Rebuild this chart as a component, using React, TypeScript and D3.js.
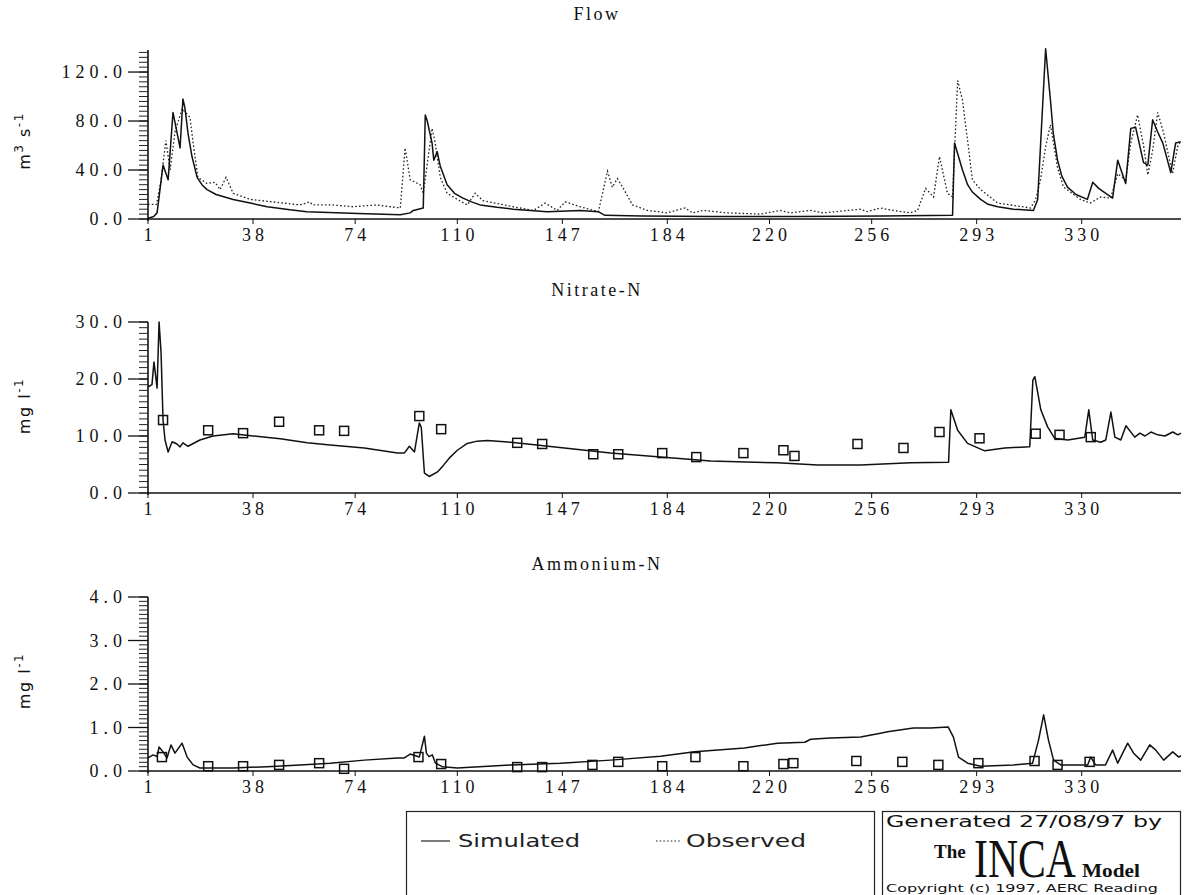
import React from "react";
import * as d3 from "d3";

// ---------- DATA ----------
const xTickDays = [1, 38, 74, 110, 147, 184, 220, 256, 293, 330];

// Flow (m3 s-1)
const flowSimulated: [number, number][] = [
  [1, 0.5], [3, 2], [4.2, 5], [6.3, 44], [8.1, 32], [9.8, 87], [12.3, 58], [13.3, 98], [14, 91],
  [15.1, 70], [16.5, 51], [18.3, 34], [20, 28], [21.8, 24], [25, 20], [31, 16], [37, 13], [43, 10],
  [51, 7.5], [57, 6], [75, 4.5], [89.9, 3.5], [93.4, 5], [94.5, 7], [98, 9], [98.7, 85], [99.4, 80],
  [101.1, 62], [101.7, 48], [102.9, 55], [104, 43], [106.4, 28], [109, 21], [112, 17], [115, 14],
  [118, 11.5], [124, 9.5], [129.7, 8], [141.7, 6], [153.3, 7], [159.7, 6], [162, 3], [175, 2.5],
  [200, 2], [230, 2], [260, 2.5], [284.5, 3], [285.2, 62], [286.6, 51], [288, 40], [289.8, 28],
  [291.5, 22], [294.4, 16], [297, 12], [300.4, 10], [306, 8], [313, 7], [314.5, 16], [317.3, 139],
  [319, 97], [320, 70], [321.5, 48], [323, 35], [325, 26], [328, 20], [332, 16], [333.9, 30],
  [336, 25], [340.9, 17], [342.7, 48], [345.5, 29], [347.3, 74], [349, 75], [351.8, 46],
  [353.3, 44], [355, 81], [356.8, 71], [358.6, 62], [361.4, 38], [363.1, 62], [364.9, 63],
];
const flowObserved: [number, number][] = [
  [1, 12], [4, 12], [5.5, 30], [7.3, 64], [8.8, 40], [10.5, 71], [13, 90], [15.8, 83], [16.9, 62],
  [18.6, 34], [21.8, 29], [24.6, 30], [26.4, 24], [28.5, 34], [31, 21], [37, 16], [54.6, 11.5],
  [58, 14], [59, 11.5], [66, 11.5], [73, 10], [81.7, 11.5], [89.9, 9], [91.6, 58], [93.4, 32],
  [96.9, 28], [98, 21], [101.1, 74], [102.2, 62], [104, 34], [106.4, 21], [110, 16], [113.5, 11.5],
  [116.3, 21], [119, 15], [129.7, 10], [136.8, 7], [141, 13], [145.2, 7], [148, 14], [153.3, 10],
  [159.7, 6], [162.9, 39], [164.6, 26], [166.4, 33], [168.5, 25], [171.7, 11.5], [177, 7],
  [184, 5], [190.3, 9], [192.8, 5], [196.7, 7], [205, 5], [216.8, 4], [223.8, 7], [227.4, 5],
  [234.4, 7], [239, 5], [252, 8], [254.5, 6], [259, 9], [263.7, 7], [269.7, 5], [272.2, 7],
  [275, 25], [277.8, 18], [279.9, 51], [282.7, 21], [284.5, 18], [286.3, 113], [288, 97],
  [289.8, 64], [291.5, 32], [294.4, 24], [300.4, 13], [312, 9], [313.8, 16], [315.5, 32],
  [317.3, 59], [319, 77], [321.5, 42], [323.6, 26], [329.6, 16], [333, 13], [336.7, 18],
  [340.2, 17], [342.7, 37], [345.5, 32], [347.3, 62], [349.7, 85], [351.8, 60], [353.3, 36],
  [355, 56], [356.8, 87], [358.9, 70], [362, 37], [363.8, 59], [365, 64],
];

// Nitrate-N (mg l-1)
const nitrateSimulated: [number, number][] = [
  [1, 18.6], [2.4, 19], [3.1, 23], [4.2, 18.4], [4.9, 30], [5.6, 24.6], [6.3, 12.8], [7, 9.3],
  [8.1, 7.2], [9.5, 9], [11.2, 8.6], [12.3, 8.1], [13.3, 8.8], [15.1, 8.2], [19.3, 9.3],
  [23.9, 10], [31, 10.4], [38, 10], [47.6, 9.5], [57.1, 8.8], [65.2, 8.4], [77.2, 7.9], [88.9, 7],
  [91.3, 7], [93.1, 8.2], [94.9, 7.2], [96.6, 12.3], [97.3, 11.5], [98.4, 3.5], [100.1, 2.9],
  [103, 3.7], [105, 4.8], [107.5, 6.3], [110, 7.5], [113.5, 8.7], [117, 9.1], [120.6, 9.2],
  [126.6, 9], [134.7, 8.6], [147.7, 7.9], [164, 7], [181.6, 6.3], [199.2, 5.6], [222.8, 5.3],
  [237, 4.9], [252.1, 4.9], [269.7, 5.3], [283.1, 5.4], [283.9, 14.6], [286.3, 11], [289.8, 8.7],
  [295.8, 7.4], [302.9, 7.9], [311.7, 8.1], [312.8, 19.8], [313.5, 20.4], [315.6, 14.6],
  [318, 11.6], [320.5, 9.6], [325.1, 9.3], [331.1, 9.8], [332.5, 14.6], [333.9, 9.3],
  [336.7, 8.9], [338.5, 9.3], [340.3, 14.2], [341.7, 9.8], [343.8, 9.3], [345.6, 11.8],
  [348.7, 9.8], [350.5, 10.5], [352.3, 10], [354.4, 10.7], [356.8, 10.2], [359.3, 10],
  [362.1, 10.7], [363.9, 10.2], [365, 10.5],
];
const nitrateObserved: [number, number][] = [
  [6.3, 12.8], [22.2, 11], [34.5, 10.5], [47.2, 12.5], [61.3, 11], [70.1, 10.9], [96.6, 13.5],
  [104.3, 11.2], [131.1, 8.8], [139.9, 8.6], [157.9, 6.8], [166.7, 6.8], [182.2, 7], [194.2, 6.3],
  [210.8, 7], [224.9, 7.5], [228.8, 6.5], [251, 8.6], [267.2, 7.9], [279.9, 10.7], [294, 9.6],
  [313.8, 10.4], [322.2, 10.2], [333.2, 9.8],
];

// Ammonium-N (mg l-1)
const ammoniumSimulated: [number, number][] = [
  [1, 0.3], [2.8, 0.37], [4.2, 0.33], [4.9, 0.55], [6.3, 0.44], [7.7, 0.3], [9.1, 0.6],
  [10.5, 0.41], [13, 0.64], [14.8, 0.32], [16.9, 0.14], [19.3, 0.07], [31, 0.07], [43, 0.1],
  [54.6, 0.14], [65.2, 0.18], [77.2, 0.25], [88.9, 0.3], [91.3, 0.3], [93.4, 0.39], [96.6, 0.32],
  [98.4, 0.8], [99.1, 0.41], [100, 0.33], [101.2, 0.37], [102.3, 0.18], [104.7, 0.1], [110, 0.07],
  [128.7, 0.14], [146.3, 0.18], [164, 0.25], [181.6, 0.34], [187.6, 0.39], [193.6, 0.44],
  [211.2, 0.53], [222.8, 0.64], [232.4, 0.66], [234.5, 0.73], [241.5, 0.76], [252.1, 0.78],
  [259.1, 0.87], [261.6, 0.9], [270.7, 0.99], [276.7, 0.99], [283, 1.01], [284.8, 0.78],
  [286.6, 0.32], [289.8, 0.18], [294.4, 0.11], [306, 0.14], [312.7, 0.18], [314.8, 0.71],
  [316.6, 1.29], [318.3, 0.71], [320.1, 0.25], [322.6, 0.14], [332.1, 0.14], [333.2, 0.32],
  [334.9, 0.14], [338.4, 0.14], [340.9, 0.48], [342.7, 0.18], [346.2, 0.64], [348.3, 0.41],
  [350.8, 0.25], [354, 0.6], [356.1, 0.48], [358.9, 0.25], [362.1, 0.44], [364.2, 0.32], [365, 0.35],
];
const ammoniumObserved: [number, number][] = [
  [5.9, 0.32], [22.2, 0.11], [34.5, 0.11], [47.2, 0.14], [61.3, 0.18], [70.1, 0.05], [96.3, 0.32],
  [104.3, 0.16], [131.1, 0.09], [139.9, 0.09], [157.6, 0.14], [166.7, 0.21], [182.2, 0.11],
  [193.9, 0.32], [210.8, 0.11], [224.9, 0.16], [228.4, 0.18], [250.6, 0.23], [266.8, 0.21],
  [279.5, 0.14], [293.6, 0.18], [313.4, 0.23], [321.5, 0.14], [332.8, 0.21],
];

const flowTicks = [0, 40, 80, 120];
const nitrateTicks = [0, 10, 20, 30];
const ammoniumTicks = [0, 1, 2, 3, 4];

// ---------- LAYOUT ----------
const X0 = 148;
const X1 = 1181;
const xScale = d3.scaleLinear().domain([1, 365]).range([X0, X1]);

const serif = "'Liberation Serif', 'DejaVu Serif', serif";
const sans = "'DejaVu Sans', 'Liberation Sans', sans-serif";

type Panel = {
  title: string;
  titleY: number;
  yLabel: "flow" | "mg";
  yLabelY: number;
  domain: [number, number];
  range: [number, number];
  ticks: number[];
  minorStep: number;
  minorMax: number;
  sim: [number, number][];
  obs: [number, number][];
  obsAsLine: boolean;
};

const panels: Panel[] = [
  {
    title: "Flow", titleY: 20, yLabel: "flow", yLabelY: 141,
    domain: [0, 138], range: [219, 50], ticks: flowTicks, minorStep: 4, minorMax: 136,
    sim: flowSimulated, obs: flowObserved, obsAsLine: true,
  },
  {
    title: "Nitrate-N", titleY: 296, yLabel: "mg", yLabelY: 406,
    domain: [0, 30], range: [493, 322], ticks: nitrateTicks, minorStep: 1, minorMax: 30,
    sim: nitrateSimulated, obs: nitrateObserved, obsAsLine: false,
  },
  {
    title: "Ammonium-N", titleY: 570, yLabel: "mg", yLabelY: 681,
    domain: [0, 4], range: [771, 597], ticks: ammoniumTicks, minorStep: 0.1, minorMax: 4,
    sim: ammoniumSimulated, obs: ammoniumObserved, obsAsLine: false,
  },
];

function PanelView({ p }: { p: Panel }) {
  const y = d3.scaleLinear().domain(p.domain).range(p.range);
  const line = d3.line<[number, number]>().x((d) => xScale(d[0])).y((d) => y(d[1]));
  const minors = d3.range(0, p.minorMax + 1e-9, p.minorStep);
  const yBase = y(0);
  return (
    <g>
      <text x={597} y={p.titleY} textAnchor="middle" fontFamily={serif} fontSize={18}
        letterSpacing={2.5} fill="#111">{p.title}</text>
      {/* y label */}
      <g transform={`translate(30,${p.yLabelY}) rotate(-90)`}>
        {p.yLabel === "flow" ? (
          <text textAnchor="middle" fontFamily={sans} fontSize={16} fill="#111" letterSpacing={1.5}>
            m<tspan dy={-7} fontSize={12}>3</tspan><tspan dy={7}> s</tspan>
            <tspan dy={-7} fontSize={12}>-1</tspan>
          </text>
        ) : (
          <text textAnchor="middle" fontFamily={sans} fontSize={16} fill="#111" letterSpacing={1.5}>
            mg l<tspan dy={-7} fontSize={12}>-1</tspan>
          </text>
        )}
      </g>
      {/* y axis */}
      <line x1={X0} x2={X0} y1={p.range[1]} y2={yBase + 2} stroke="#111" strokeWidth={1.6} />
      {minors.map((v, i) => (
        <line key={"m" + i} x1={X0 - 9} x2={X0} y1={y(v)} y2={y(v)} stroke="#222" strokeWidth={1} />
      ))}
      {p.ticks.map((v) => (
        <g key={"t" + v}>
          <line x1={X0 - 20} x2={X0} y1={y(v)} y2={y(v)} stroke="#111" strokeWidth={1.3} />
          <text x={127} y={y(v) + 6} textAnchor="end" fontFamily={serif} fontSize={18}
            letterSpacing={5} fill="#111">{v.toFixed(1)}</text>
        </g>
      ))}
      {/* x axis */}
      <line x1={X0} x2={X1} y1={yBase} y2={yBase} stroke="#111" strokeWidth={1.6} />
      {xTickDays.map((d) => (
        <g key={"x" + d}>
          <line x1={xScale(d)} x2={xScale(d)} y1={yBase} y2={yBase + 5} stroke="#111" strokeWidth={1} />
          <text x={xScale(d) + 2} y={yBase + 22} textAnchor="middle" fontFamily={serif}
            fontSize={18} letterSpacing={4} fill="#111">{d}</text>
        </g>
      ))}
      {/* series */}
      {p.obsAsLine ? (
        <path d={line(p.obs) || ""} fill="none" stroke="#222" strokeWidth={1.3}
          strokeDasharray="1.6,2.2" />
      ) : (
        p.obs.map((d, i) => (
          <rect key={"o" + i} x={xScale(d[0]) - 4.5} y={y(d[1]) - 4.5} width={9} height={9}
            fill="none" stroke="#111" strokeWidth={1.5} />
        ))
      )}
      <path d={line(p.sim) || ""} fill="none" stroke="#111" strokeWidth={1.5}
        strokeLinejoin="round" />
    </g>
  );
}

export default function App() {
  return (
    <svg width={1186} height={895} style={{ position: "absolute", left: 0, top: 0, background: "#fff" }}>
      <rect x={0} y={0} width={1186} height={895} fill="#fff" />
      {panels.map((p) => (
        <PanelView key={p.title} p={p} />
      ))}
      {/* legend */}
      <rect x={406.5} y={811.5} width={468} height={100} fill="none" stroke="#222" strokeWidth={1.2} />
      <line x1={421} x2={450} y1={841} y2={841} stroke="#222" strokeWidth={1.2} />
      <text x={458} y={847} fontFamily={sans} fontSize={17} textLength={122}
        lengthAdjust="spacingAndGlyphs" fill="#222">Simulated</text>
      <line x1={656} x2={680} y1={841} y2={841} stroke="#222" strokeWidth={1.2} strokeDasharray="1.5,2.2" />
      <text x={686} y={847} fontFamily={sans} fontSize={17} textLength={120}
        lengthAdjust="spacingAndGlyphs" fill="#222">Observed</text>
      {/* INCA box */}
      <rect x={882.5} y={811.5} width={298} height={100} fill="none" stroke="#222" strokeWidth={1.2} />
      <text x={886} y={827} fontFamily={sans} fontSize={16} textLength={276}
        lengthAdjust="spacingAndGlyphs" fill="#111">Generated 27/08/97 by</text>
      <text x={934} y={858} fontFamily={serif} fontSize={19} fontWeight="bold" fill="#111">The</text>
      <text x={974} y={877} fontFamily={serif} fontSize={54} textLength={102}
        lengthAdjust="spacingAndGlyphs" fill="#111">INCA</text>
      <text x={1082} y={877} fontFamily={serif} fontSize={19} fontWeight="bold" textLength={58}
        lengthAdjust="spacingAndGlyphs" fill="#111">Model</text>
      <text x={886} y={892} fontFamily={sans} fontSize={10.5} textLength={272}
        lengthAdjust="spacingAndGlyphs" fill="#111">Copyright (c) 1997, AERC Reading</text>
    </svg>
  );
}
